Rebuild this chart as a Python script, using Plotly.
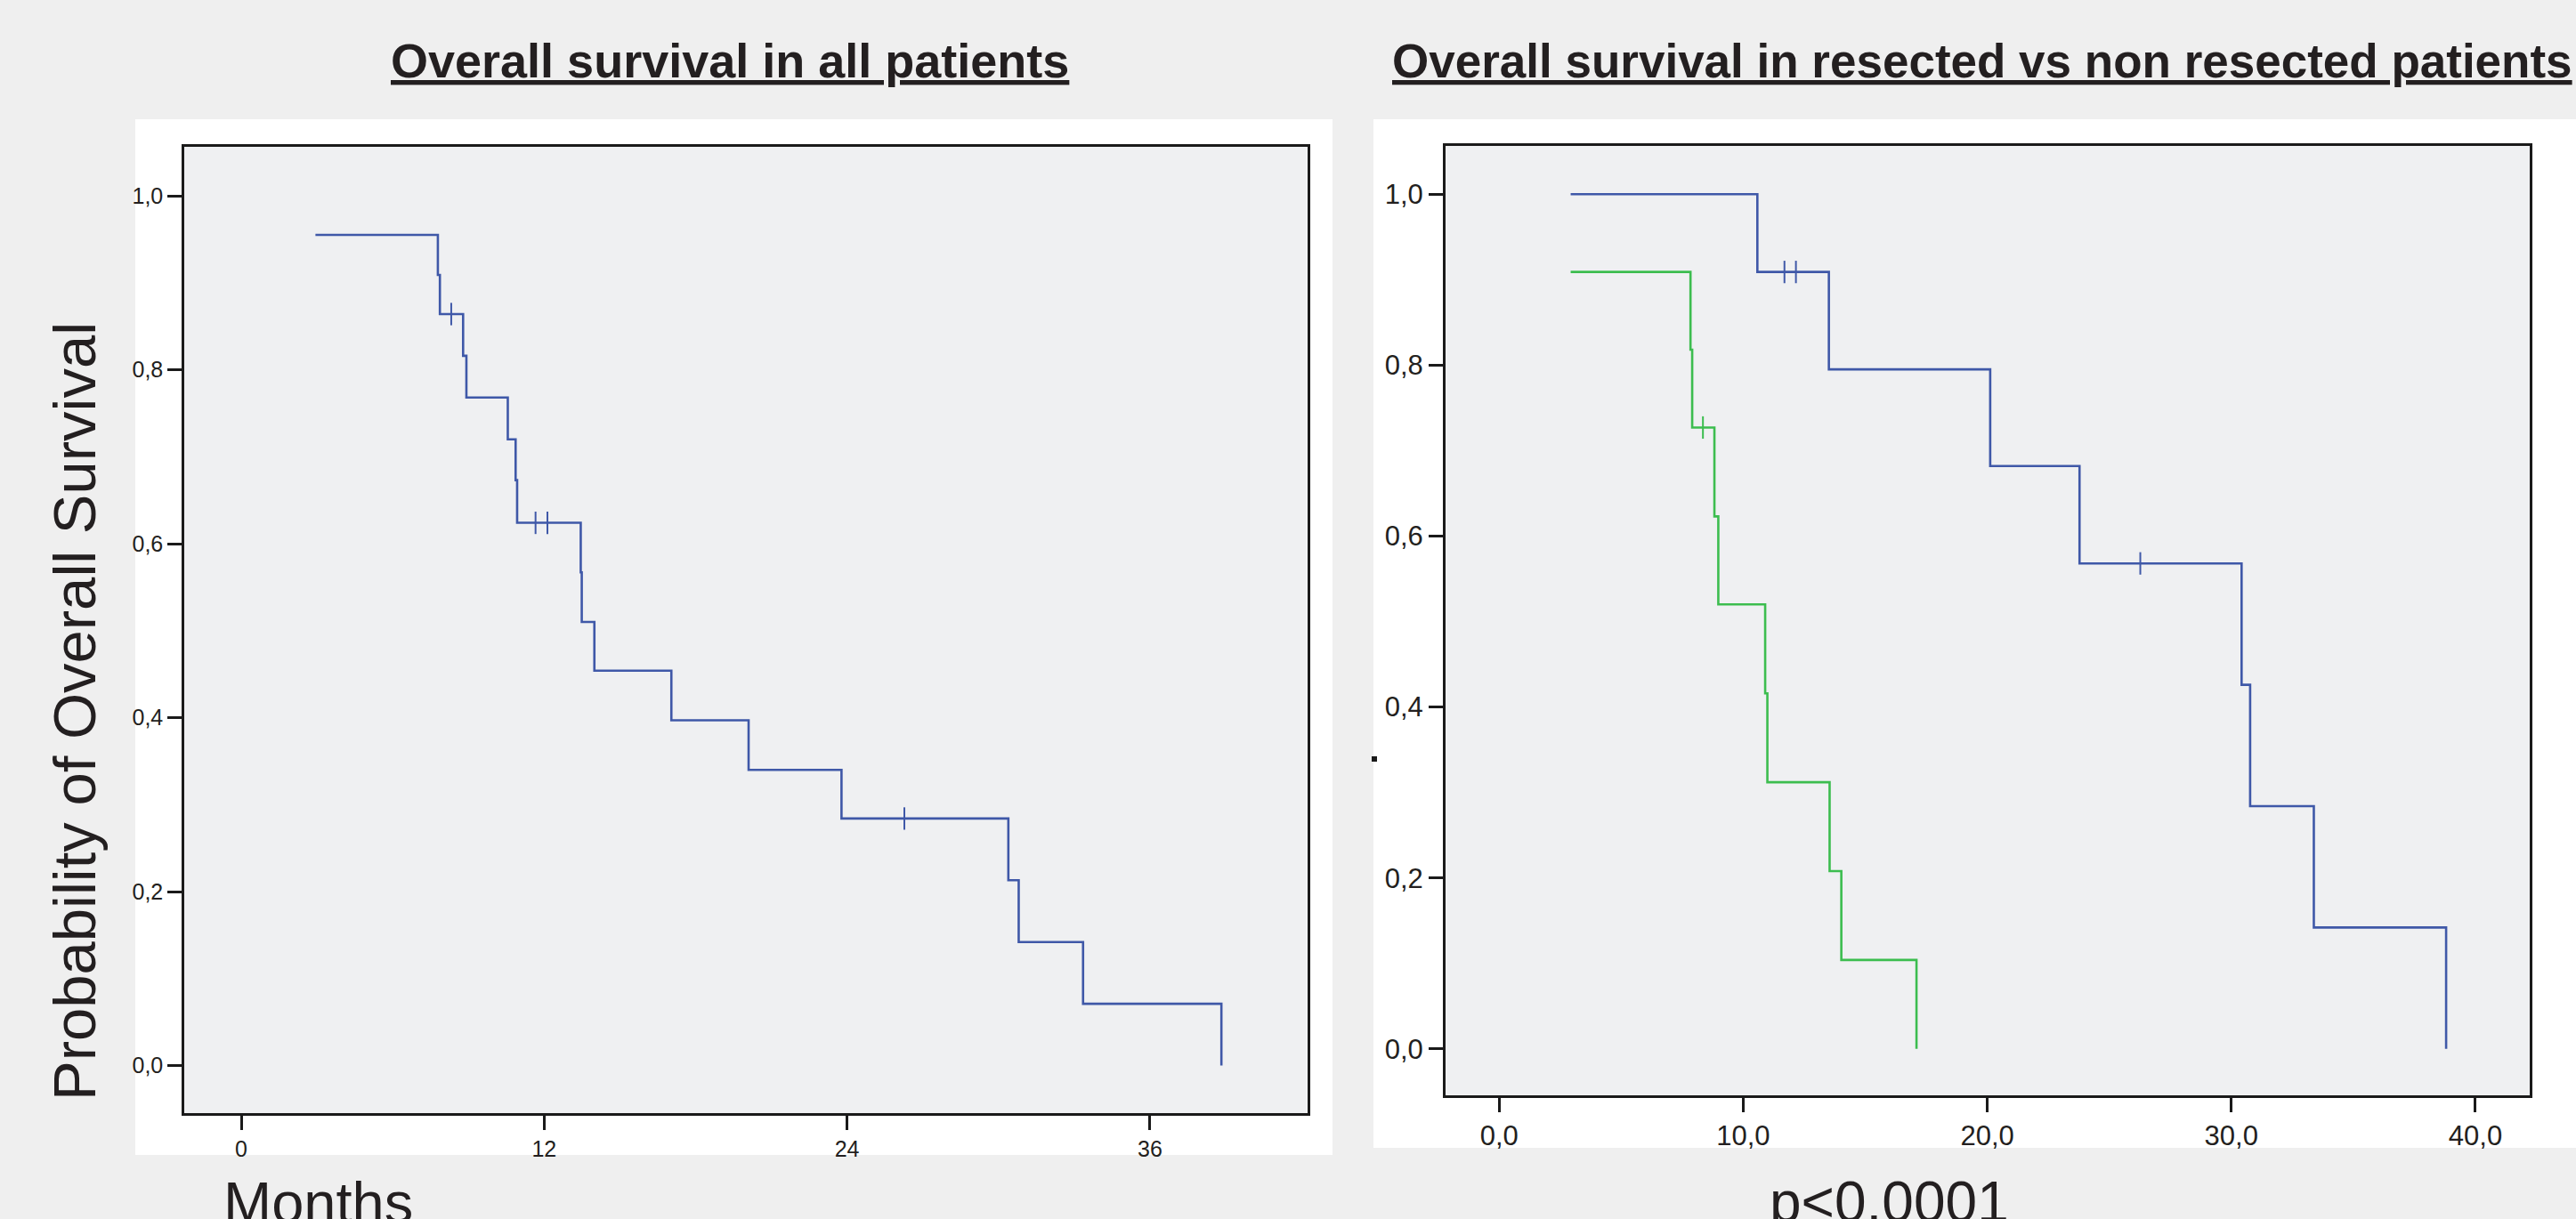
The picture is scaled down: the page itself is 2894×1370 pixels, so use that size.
import plotly.graph_objects as go

# ---------------- data ----------------
all_time = [2.94, 7.79, 7.87, 8.79, 8.92, 10.56, 10.87, 10.93, 13.45, 13.49, 13.99,
            17.04, 20.10, 23.78, 30.39, 30.80, 33.35, 38.83]
all_surv = [0.955, 0.909, 0.864, 0.816, 0.768, 0.720, 0.673, 0.624, 0.567, 0.510, 0.454,
            0.397, 0.340, 0.284, 0.213, 0.142, 0.071, 0.0]
all_cens_time = [8.32, 11.66, 12.13, 26.27]
all_cens_surv = [0.864, 0.624, 0.624, 0.284]

res_time = [2.93, 10.58, 13.51, 20.12, 23.78, 30.42, 30.77, 33.38, 38.80]
res_surv = [1.0, 0.909, 0.795, 0.682, 0.568, 0.426, 0.284, 0.142, 0.0]
res_cens_time = [11.69, 12.16, 26.27]
res_cens_surv = [0.909, 0.909, 0.568]

non_time = [2.93, 7.84, 7.91, 8.82, 8.98, 10.90, 10.99, 13.54, 14.02, 17.10]
non_surv = [0.909, 0.818, 0.727, 0.623, 0.520, 0.416, 0.312, 0.208, 0.104, 0.0]
non_cens_time = [8.35]
non_cens_surv = [0.727]

y_ticks = [0.0, 0.2, 0.4, 0.6, 0.8, 1.0]
y_ticklabels = ["0,0", "0,2", "0,4", "0,6", "0,8", "1,0"]
x1_ticks = [0, 12, 24, 36]
x1_ticklabels = ["0", "12", "24", "36"]
x2_ticks = [0, 10, 20, 30, 40]
x2_ticklabels = ["0,0", "10,0", "20,0", "30,0", "40,0"]

title_left = "Overall survival in all patients"
title_right = "Overall survival in resected vs non resected patients"
y_title = "Probability of Overall Survival"
x_note_left = "Months"
x_note_right = "p<0.0001"

# ---------------- styling ----------------
W, H = 2894, 1370
BLUE = "#3f58a8"
GREEN = "#3cbd4f"
TXT = "#231f20"
FONT = "Liberation Sans, Arial, sans-serif"
PAGE_BG = "#efefef"
PLOT_BG = "#eff0f2"

def px_x(p):
    return p / W

def px_y(p):
    return 1 - p / H

fig = go.Figure()

# left panel
fig.add_trace(go.Scatter(x=all_time, y=all_surv, mode="lines", line=dict(color=BLUE, width=2.6, shape="hv"),
                         xaxis="x", yaxis="y", showlegend=False, hoverinfo="skip"))
fig.add_trace(go.Scatter(x=all_cens_time, y=all_cens_surv, mode="markers",
                         marker=dict(symbol="line-ns", size=18, line=dict(color=BLUE, width=2)),
                         xaxis="x", yaxis="y", showlegend=False, hoverinfo="skip"))
# right panel
fig.add_trace(go.Scatter(x=res_time, y=res_surv, mode="lines", line=dict(color=BLUE, width=2.6, shape="hv"),
                         xaxis="x2", yaxis="y2", showlegend=False, hoverinfo="skip"))
fig.add_trace(go.Scatter(x=res_cens_time, y=res_cens_surv, mode="markers",
                         marker=dict(symbol="line-ns", size=18, line=dict(color=BLUE, width=2)),
                         xaxis="x2", yaxis="y2", showlegend=False, hoverinfo="skip"))
fig.add_trace(go.Scatter(x=non_time, y=non_surv, mode="lines", line=dict(color=GREEN, width=2.6, shape="hv"),
                         xaxis="x2", yaxis="y2", showlegend=False, hoverinfo="skip"))
fig.add_trace(go.Scatter(x=non_cens_time, y=non_cens_surv, mode="markers",
                         marker=dict(symbol="line-ns", size=18, line=dict(color=GREEN, width=2)),
                         xaxis="x2", yaxis="y2", showlegend=False, hoverinfo="skip"))

axis_common = dict(showline=True, mirror=True, linecolor="#1a1a1a", linewidth=2.5,
                   ticks="outside", ticklen=16, tickwidth=2.5, tickcolor="#1a1a1a",
                   showgrid=False, zeroline=False, fixedrange=True)

fig.update_layout(
    width=W, height=H,
    margin=dict(l=0, r=0, t=0, b=0),
    paper_bgcolor=PAGE_BG,
    plot_bgcolor="rgba(0,0,0,0)",
    font=dict(family=FONT, color=TXT),
    xaxis=dict(domain=[px_x(207), px_x(1468.6)], range=[-2.257, 42.23], anchor="y",
               tickvals=x1_ticks, ticktext=x1_ticklabels, tickfont=dict(size=25, color=TXT), **axis_common),
    yaxis=dict(domain=[px_y(1251), px_y(165)], range=[-0.0547, 1.0563], anchor="x",
               tickvals=y_ticks, ticktext=y_ticklabels, tickfont=dict(size=25, color=TXT), **axis_common),
    xaxis2=dict(domain=[px_x(1623.8), px_x(2842)], range=[-2.203, 42.225], anchor="y2",
                tickvals=x2_ticks, ticktext=x2_ticklabels, tickfont=dict(size=31, color=TXT), **axis_common),
    yaxis2=dict(domain=[px_y(1231.3), px_y(163.7)], range=[-0.0547, 1.0568], anchor="x2",
                tickvals=y_ticks, ticktext=y_ticklabels, tickfont=dict(size=31, color=TXT), **axis_common),
)

shapes = [
    # white panels
    dict(type="rect", xref="paper", yref="paper", x0=px_x(152), x1=px_x(1497), y0=px_y(1298), y1=px_y(134),
         fillcolor="white", line=dict(width=0), layer="below"),
    dict(type="rect", xref="paper", yref="paper", x0=px_x(1543), x1=1.0, y0=px_y(1290), y1=px_y(134),
         fillcolor="white", line=dict(width=0), layer="below"),
    # plot area backgrounds
    dict(type="rect", xref="x domain", yref="y domain", x0=0, x1=1, y0=0, y1=1,
         fillcolor=PLOT_BG, line=dict(width=0), layer="below"),
    dict(type="rect", xref="x2 domain", yref="y2 domain", x0=0, x1=1, y0=0, y1=1,
         fillcolor=PLOT_BG, line=dict(width=0), layer="below"),
    # tiny stray mark left of right panel
    dict(type="rect", xref="paper", yref="paper", x0=px_x(1541), x1=px_x(1547), y0=px_y(856), y1=px_y(850),
         fillcolor="#1a1a1a", line=dict(width=0), layer="above"),
]
fig.update_layout(shapes=shapes)

annotations = [
    dict(text="<b><u>" + title_left + "</u></b>", x=px_x(820), y=px_y(68), xref="paper", yref="paper",
         xanchor="center", yanchor="middle", showarrow=False, font=dict(size=54, color=TXT, family=FONT)),
    dict(text="<b><u>" + title_right + "</u></b>", x=px_x(1562), y=px_y(68), xref="paper", yref="paper",
         xanchor="left", yanchor="middle", showarrow=False, font=dict(size=53, color=TXT, family=FONT)),
    dict(text=y_title, x=px_x(84), y=px_y(800), xref="paper", yref="paper", textangle=-90,
         xanchor="center", yanchor="middle", showarrow=False, font=dict(size=67, color=TXT, family=FONT)),
    dict(text=x_note_left, x=px_x(249), y=px_y(1351), xref="paper", yref="paper",
         xanchor="left", yanchor="middle", showarrow=False, font=dict(size=65, color=TXT, family=FONT)),
    dict(text=x_note_right, x=px_x(2122), y=px_y(1351), xref="paper", yref="paper",
         xanchor="center", yanchor="middle", showarrow=False, font=dict(size=64, color=TXT, family=FONT)),
]
fig.update_layout(annotations=annotations)

fig.write_html("out.html", config={"displayModeBar": False},
               post_script="document.body.style.margin='0';document.body.style.background='#efefef';")
